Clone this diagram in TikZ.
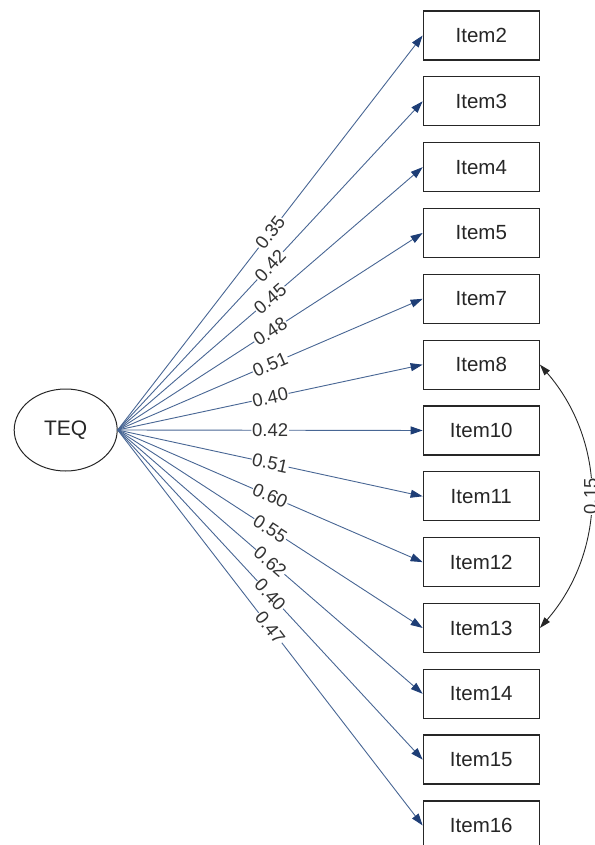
\documentclass[tikz,border=0pt]{standalone}
\usepackage{fontspec}
\setmainfont{Liberation Sans}
\usetikzlibrary{arrows.meta,shapes.geometric}
\definecolor{pathblue}{RGB}{72,102,148}
\definecolor{headblue}{RGB}{30,62,118}
\begin{document}
\begin{tikzpicture}[x=1pt,y=-1pt,
  itembox/.style={draw=black!85, line width=1.3pt, minimum width=116pt, minimum height=49pt, inner sep=0pt, text=black!85, font=\fontsize{20.5}{24}\selectfont},
  latent/.style={ellipse, draw=black!85, line width=1pt, minimum width=103pt, minimum height=82pt, inner sep=0pt, text=black!85, font=\fontsize{21}{25}\selectfont},
  loading/.style={draw=pathblue, line width=0.9pt, -{Triangle[length=12pt,width=8pt,color=headblue]}},
  coef/.style={midway, sloped, fill=white, inner sep=0.8pt, text=black!80, font=\fontsize{18.5}{22}\selectfont},
  covar/.style={draw=black!85, line width=0.9pt, {Triangle[length=11pt,width=7pt]}-{Triangle[length=11pt,width=7pt]}}]
\useasboundingbox (0,0) rectangle (594,845);
\node[latent] (teq) at (65.7,430) {TEQ};
\foreach \name/\i/\c in {Item2/0/0.35, Item3/1/0.42, Item4/2/0.45, Item5/3/0.48, Item7/4/0.51, Item8/5/0.40, Item10/6/0.42, Item11/7/0.51, Item12/8/0.60, Item13/9/0.55, Item14/10/0.62, Item15/11/0.40, Item16/12/0.47} {
  \node[itembox] (\name) at (481.3, {35.5+\i*65.83}) {\name};
  \draw[loading] (teq.east) -- node[coef] {\c} (\name.west);
}
\draw[covar] (Item8.east) to[bend left=41] node[midway, rotate=90, fill=white, inner sep=0.8pt, text=black!80, font=\fontsize{18.5}{22}\selectfont] (c15) {0.15} (Item13.east);
\end{tikzpicture}
\end{document}
